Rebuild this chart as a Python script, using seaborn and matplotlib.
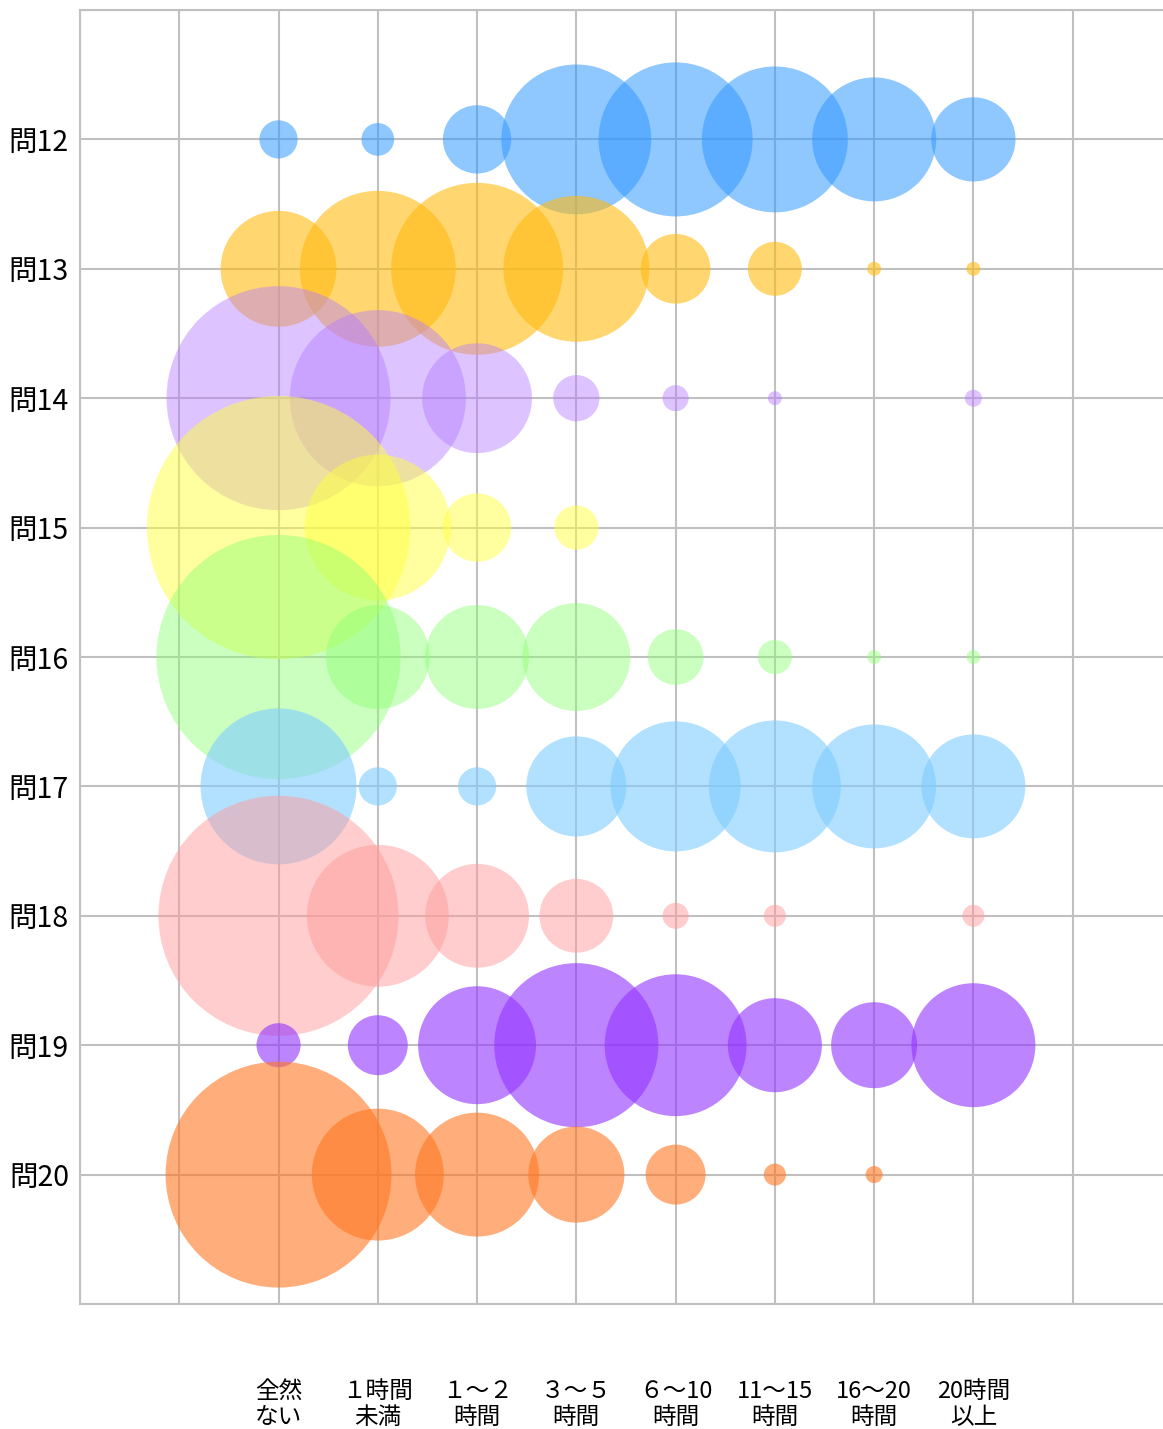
import matplotlib
matplotlib.use("Agg")
import matplotlib.pyplot as plt
import seaborn as sns
import pandas as pd

questions = ["問12", "問13", "問14", "問15", "問16", "問17", "問18", "問19", "問20"]
categories = ["全然\nない", "１時間\n未満", "１～２\n時間", "３～５\n時間", "６～10\n時間",
              "11～15\n時間", "16～20\n時間", "20時間\n以上"]

# estimated percentages (bubble area proportional to value)
v12 = [1.5, 1.1, 4.8, 23.1, 24.4, 21.9, 15.8, 7.3]
v13 = [13.8, 25.0, 30.4, 21.9, 5.0, 3.0, 0.2, 0.2]
v14 = [51.6, 31.9, 12.4, 2.2, 0.7, 0.2, 0.0, 0.3]
v15 = [71.3, 21.9, 4.8, 2.0, 0.0, 0.0, 0.0, 0.0]
v16 = [61.3, 11.1, 11.1, 12.0, 3.2, 1.2, 0.2, 0.2]
v17 = [25.0, 1.5, 1.5, 10.3, 17.4, 17.9, 15.8, 11.1]
v18 = [59.3, 20.7, 11.1, 5.6, 0.7, 0.5, 0.0, 0.5]
v19 = [2.0, 3.7, 14.3, 27.7, 20.7, 9.1, 7.6, 15.8]
v20 = [52.5, 17.9, 15.8, 9.5, 3.7, 0.5, 0.3, 0.0]
values = [v12, v13, v14, v15, v16, v17, v18, v19, v20]

colors = ["#3399FF", "#FFBB11", "#B57BFF", "#FFFF40", "#8CFF73",
          "#7FCCFF", "#FF9C9C", "#9233FF", "#FF7722"]
alphas = [0.55, 0.6, 0.45, 0.5, 0.45, 0.6, 0.5, 0.6, 0.6]

rows = []
for qi, (q, vals) in enumerate(zip(questions, values)):
    for ci, v in enumerate(vals):
        if v > 0:
            rows.append({"q": q, "qpos": qi + 1, "cpos": ci + 2, "value": v})
df = pd.DataFrame(rows)

sns.set_theme(style="white")
plt.rcParams["font.family"] = ["Noto Sans CJK JP", "DejaVu Sans"]

W, H, DPI = 1163, 1429, 100
fig = plt.figure(figsize=(W / DPI, H / DPI), dpi=DPI)
ax = fig.add_axes([80 / W, 1 - 1304 / H, (1163 - 80) / W, (1304 - 10) / H])

for qi, q in enumerate(questions):
    sub = df[df["q"] == q]
    sns.scatterplot(data=sub, x="cpos", y="qpos", size="value",
                    sizes=(0, 50400), size_norm=(0, 100),
                    color=colors[qi], alpha=alphas[qi], edgecolor="none",
                    linewidth=0, legend=False, ax=ax, zorder=3)

ax.set_xlim(0, 10.91)
ax.set_ylim(10, 0)

xlabels = [""] * 11
for i, c in enumerate(categories):
    xlabels[i + 2] = c
ylabels = [""] * 11
for i, q in enumerate(questions):
    ylabels[i + 1] = q

ax.set_xticks(range(0, 11))
ax.set_xticklabels(xlabels, fontsize=17, linespacing=1.12, color="black")
ax.set_yticks(range(0, 11))
ax.set_yticklabels(ylabels, fontsize=20.5, color="black")
ax.tick_params(axis="both", which="both", length=0,
               labelbottom=True, labelleft=True)
ax.tick_params(axis="x", pad=55)
ax.tick_params(axis="y", pad=8)
ax.grid(True, color="#C0C0C0", linewidth=1.5, zorder=1)
ax.set_axisbelow(True)

for s in ["left", "top", "bottom"]:
    ax.spines[s].set_color("#C0C0C0")
    ax.spines[s].set_linewidth(1.5)
ax.spines["right"].set_visible(False)
ax.set_xlabel("")
ax.set_ylabel("")

fig.savefig("out.png", dpi=DPI)
